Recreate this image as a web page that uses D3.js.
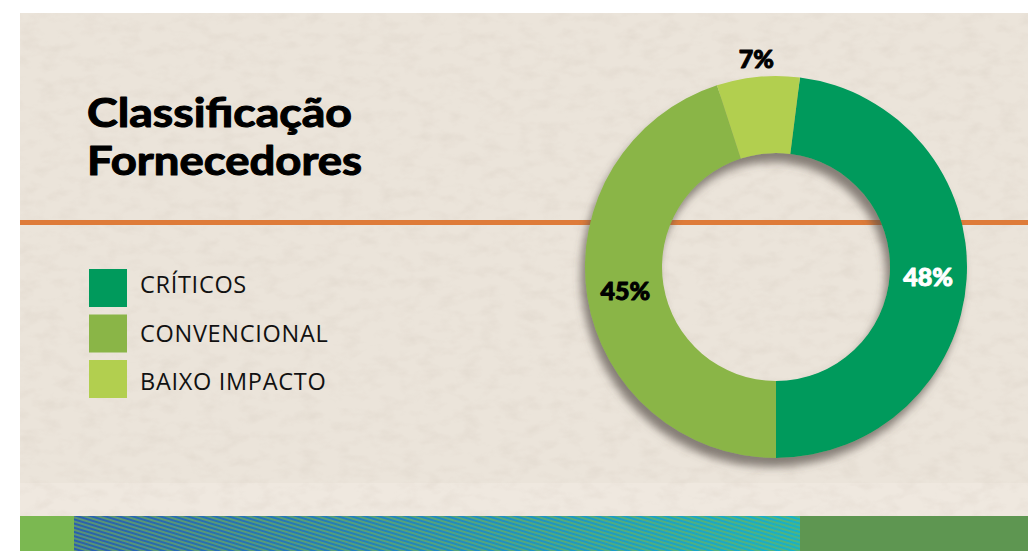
<!DOCTYPE html>
<html>
<head>
<meta charset="utf-8">
<script src="https://cdn.jsdelivr.net/npm/d3@7"></script>
<style>
  html, body { margin: 0; padding: 0; background: #ffffff; }
  svg { display: block; }
</style>
</head>
<body>
<svg id="chart" width="1028" height="551"></svg>
<script>
// Supplier classification shares (percent)
const categories = ["CRÍTICOS", "CONVENCIONAL", "BAIXO IMPACTO"];
const shares = [48, 45, 7];
const colors = ["#009a5c", "#8ab547", "#b2cf4f"];
const titleLines = ["Classificação", "Fornecedores"];

const W = 1028, H = 551;
const svg = d3.select("#chart");
const defs = svg.append("defs");

// paper texture
const tex = defs.append("filter").attr("id", "paper").attr("x", 0).attr("y", 0).attr("width", 1).attr("height", 1);
tex.append("feTurbulence").attr("type", "fractalNoise").attr("baseFrequency", "0.05 0.09").attr("numOctaves", 3).attr("seed", 7).attr("result", "noise");
tex.append("feColorMatrix").attr("in", "noise").attr("type", "matrix")
  .attr("values", "0 0 0 0 0.55  0 0 0 0 0.47  0 0 0 0 0.40  0 0 0 -1.1 0.62");

// ring shadow
const sh = defs.append("filter").attr("id", "ringShadow").attr("x", "-20%").attr("y", "-20%").attr("width", "140%").attr("height", "140%");
sh.append("feDropShadow").attr("dx", -4).attr("dy", 9).attr("stdDeviation", 4.5)
  .attr("flood-color", "#554d47").attr("flood-opacity", 0.68);

// footer stripe
const grad = defs.append("linearGradient").attr("id", "stripeGrad").attr("x1", 0).attr("x2", 1).attr("y1", 0).attr("y2", 0);
grad.append("stop").attr("offset", 0).attr("stop-color", "#2a5fae");
grad.append("stop").attr("offset", 0.55).attr("stop-color", "#1f8cc2");
grad.append("stop").attr("offset", 1).attr("stop-color", "#17b1c9");
const hatch = defs.append("pattern").attr("id", "hatch").attr("patternUnits", "userSpaceOnUse")
  .attr("width", 8).attr("height", 4).attr("patternTransform", "rotate(17)");
hatch.append("line").attr("x1", 0).attr("x2", 8).attr("y1", 1).attr("y2", 1)
  .attr("stroke", "#7ab84a").attr("stroke-width", 1.2);

// background panel
const panel = { x: 20, y: 13, w: W - 20, h: 503 };
svg.append("rect").attr("x", panel.x).attr("y", panel.y).attr("width", panel.w).attr("height", 470).attr("fill", "#ebe4da");
svg.append("rect").attr("x", panel.x).attr("y", 483).attr("width", panel.w).attr("height", 33).attr("fill", "#efe8df");
svg.append("rect").attr("x", panel.x).attr("y", panel.y).attr("width", panel.w).attr("height", panel.h)
  .attr("fill", "#fff").attr("filter", "url(#paper)").attr("opacity", 0.3);

// footer
svg.append("rect").attr("x", 20).attr("y", 516).attr("width", 54).attr("height", 35).attr("fill", "#7bb851");
svg.append("rect").attr("x", 74).attr("y", 516).attr("width", 726).attr("height", 35).attr("fill", "url(#stripeGrad)");
svg.append("rect").attr("x", 74).attr("y", 516).attr("width", 726).attr("height", 35).attr("fill", "url(#hatch)");
svg.append("rect").attr("x", 800).attr("y", 516).attr("width", W - 800).attr("height", 35).attr("fill", "#5e9651");

// divider
svg.append("rect").attr("x", 20).attr("y", 220).attr("width", W - 20).attr("height", 5).attr("fill", "#de7b39");

// title (thin same-colour stroke gives the heavier weight)
svg.append("g").selectAll("text").data(titleLines).join("text")
  .attr("x", 87).attr("y", (d, i) => 127 + i * 48)
  .attr("font-family", "Lato, 'Noto Sans', sans-serif").attr("font-weight", 700)
  .attr("font-size", 40).attr("fill", "#000")
  .attr("stroke", "#000").attr("stroke-width", 1.1).attr("stroke-linejoin", "round")
  .attr("textLength", (d, i) => i === 0 ? 265 : 275).attr("lengthAdjust", "spacingAndGlyphs")
  .text(d => d);

// legend
const idx = d3.range(categories.length);
const sqY = d3.scaleLinear().domain([0, 2]).range([269, 360]);
const txY = d3.scaleLinear().domain([0, 2]).range([293, 390]);
const lg = svg.append("g");
lg.selectAll("rect").data(idx).join("rect")
  .attr("x", 89).attr("y", i => sqY(i)).attr("width", 38).attr("height", 38)
  .attr("fill", i => colors[i]);
lg.selectAll("text").data(idx).join("text")
  .attr("x", 140).attr("y", i => txY(i))
  .attr("font-family", "'Open Sans', 'Noto Sans', sans-serif").attr("font-weight", 400)
  .attr("font-size", 23.5).attr("letter-spacing", 0.7).attr("fill", "#111")
  .text(i => categories[i]);

// donut
const cx = 776, cy = 267, rOuter = 191, rInner = 114;
const start = Math.PI - shares[0] / 100 * 2 * Math.PI;
const pie = d3.pie().sort(null).value(d => d).startAngle(start).endAngle(start + 2 * Math.PI);
const arcs = pie(shares);
const arc = d3.arc().innerRadius(rInner).outerRadius(rOuter);
const outerLabel = d3.arc().innerRadius(rOuter + 18).outerRadius(rOuter + 18);

const g = svg.append("g").attr("transform", `translate(${cx},${cy})`);
g.append("g").attr("filter", "url(#ringShadow)")
  .selectAll("path").data(arcs).join("path")
  .attr("d", arc).attr("fill", (d, i) => colors[i]);

const labelFill = ["#ffffff", "#000", "#000"];
g.selectAll("text.pct").data(arcs).join("text").attr("class", "pct")
  .attr("transform", (d, i) => `translate(${(i === 2 ? outerLabel : arc).centroid(d)})`)
  .attr("text-anchor", "middle").attr("dy", "0.36em")
  .attr("font-family", "Lato, 'Noto Sans', sans-serif").attr("font-weight", 900)
  .attr("font-size", 25).attr("fill", (d, i) => labelFill[i])
  .attr("stroke", (d, i) => labelFill[i]).attr("stroke-width", 1).attr("stroke-linejoin", "round")
  .text(d => d.data + "%");
</script>
</body>
</html>
